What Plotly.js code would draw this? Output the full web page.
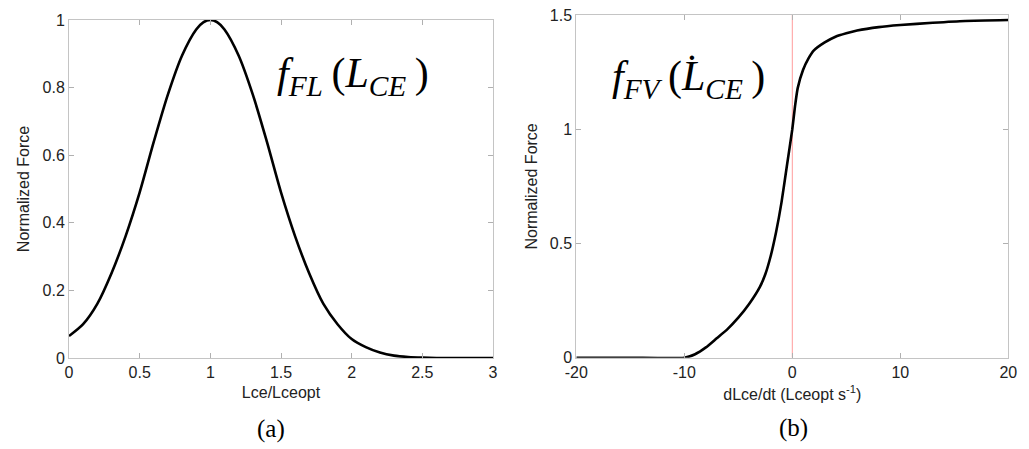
<!DOCTYPE html>
<html>
<head>
<meta charset="utf-8">
<script src="https://cdn.plot.ly/plotly-3.0.1.min.js"></script>
<style>html,body{margin:0;padding:0;background:#fff;}#chart{width:1029px;height:449px;}</style>
</head>
<body>
<div id="chart"></div>
<script>
// (a) force-length relation
const lenRatio = [0,0.1,0.2,0.3,0.4,0.5,0.6,0.7,0.8,0.9,0.95,1.0,1.05,1.1,1.2,1.3,1.4,1.5,1.6,1.7,1.8,1.9,2.0,2.1,2.2,2.3,2.4,2.5,2.6,2.7,2.8,2.9,3.0];
const forceFL  = [0.065,0.10,0.16,0.25,0.36,0.49,0.64,0.78,0.895,0.972,0.993,1.0,0.993,0.972,0.895,0.78,0.64,0.49,0.36,0.25,0.16,0.10,0.056,0.032,0.016,0.007,0.003,0.001,0,0,0,0,0];
// (b) force-velocity relation
const velocity = [-20,-15,-10,-9,-8,-7,-6,-5,-4,-3,-2.5,-2,-1.5,-1,-0.5,0,0.25,0.5,1,1.5,2,3,4,5,6,8,10,13,16,20];
const forceFV  = [0,0,0,0.015,0.045,0.085,0.125,0.175,0.235,0.31,0.365,0.445,0.55,0.68,0.84,1.0,1.1,1.18,1.26,1.31,1.345,1.38,1.405,1.42,1.432,1.447,1.456,1.466,1.474,1.478];
const xTicksA = [0,0.5,1,1.5,2,2.5,3];
const yTicksA = [0,0.2,0.4,0.6,0.8,1];
const xTicksB = [-20,-10,0,10,20];
const yTicksB = [0,0.5,1,1.5];

const tickFont = {family:'Liberation Sans, Arial, sans-serif', size:16, color:'#222'};
const titleFont = {family:'Liberation Sans, Arial, sans-serif', size:16, color:'#222'};
const axisCommon = {
  showgrid:false, zeroline:false, showline:true, linecolor:'#c4c4c4', linewidth:1,
  mirror:'ticks', ticks:'inside', ticklen:5, tickcolor:'#b0b0b0', tickwidth:1,
  tickfont:tickFont
};

const traces = [
  {x:lenRatio, y:forceFL, type:'scatter', mode:'lines', line:{color:'#000', width:2.6, shape:'spline', smoothing:0.8}, xaxis:'x', yaxis:'y', hoverinfo:'skip'},
  {x:velocity, y:forceFV, type:'scatter', mode:'lines', line:{color:'#000', width:2.6, shape:'spline', smoothing:0.5}, xaxis:'x2', yaxis:'y2', hoverinfo:'skip'}
];

const serif = 'Liberation Serif, Times New Roman, serif';
const layout = {
  width:1029, height:449,
  margin:{l:0,r:0,t:0,b:0},
  paper_bgcolor:'#fff', plot_bgcolor:'#fff',
  showlegend:false,
  xaxis: Object.assign({}, axisCommon, {domain:[0.06706,0.47911], range:[0,3], tickvals:xTicksA, ticktext:xTicksA.map(String), anchor:'y',
    title:{text:'Lce/Lceopt', font:titleFont, standoff:6}}),
  yaxis: Object.assign({}, axisCommon, {domain:[0.20267,0.95546], range:[0,1], tickvals:yTicksA, ticktext:yTicksA.map(String), anchor:'x',
    title:{text:'Normalized Force', font:titleFont, standoff:8}}),
  xaxis2: Object.assign({}, axisCommon, {domain:[0.56006,0.97988], range:[-20,20], tickvals:xTicksB, ticktext:xTicksB.map(String), anchor:'y2',
    title:{text:'dLce/dt (Lceopt s<sup>-1</sup>)', font:titleFont, standoff:8}}),
  yaxis2: Object.assign({}, axisCommon, {domain:[0.20334,0.96659], range:[0,1.5], tickvals:yTicksB, ticktext:yTicksB.map(String), anchor:'x2',
    title:{text:'Normalized Force', font:titleFont, standoff:8}}),
  shapes:[
    {type:'line', xref:'x2', yref:'y2', x0:0, x1:0, y0:0, y1:1.5, line:{color:'#ff9c9c', width:1}, layer:'below'}
  ],
  annotations:[
    {xref:'paper', yref:'paper', x:353/1029, y:1-76/449, xanchor:'center', yanchor:'middle', showarrow:false,
     text:'<i>f</i><sub><i>FL</i></sub>\u2009(<i>L</i><sub><i>CE</i></sub>\u2009)',
     font:{family:serif, size:42, color:'#000'}},
    {xref:'paper', yref:'paper', x:688/1029, y:1-79/449, xanchor:'center', yanchor:'middle', showarrow:false,
     text:'<i>f</i><sub><i>FV</i></sub>\u2009(<i>L\u0307</i><sub><i>CE</i></sub>\u2009)',
     font:{family:serif, size:42, color:'#000'}},
    {xref:'paper', yref:'paper', x:271/1029, y:1-429/449, xanchor:'center', yanchor:'middle', showarrow:false, text:'(a)',
     font:{family:serif, size:25, color:'#000'}},
    {xref:'paper', yref:'paper', x:793/1029, y:1-428/449, xanchor:'center', yanchor:'middle', showarrow:false, text:'(b)',
     font:{family:serif, size:25, color:'#000'}}
  ]
};

Plotly.newPlot('chart', traces, layout, {displayModeBar:false, staticPlot:true});
</script>
</body>
</html>
